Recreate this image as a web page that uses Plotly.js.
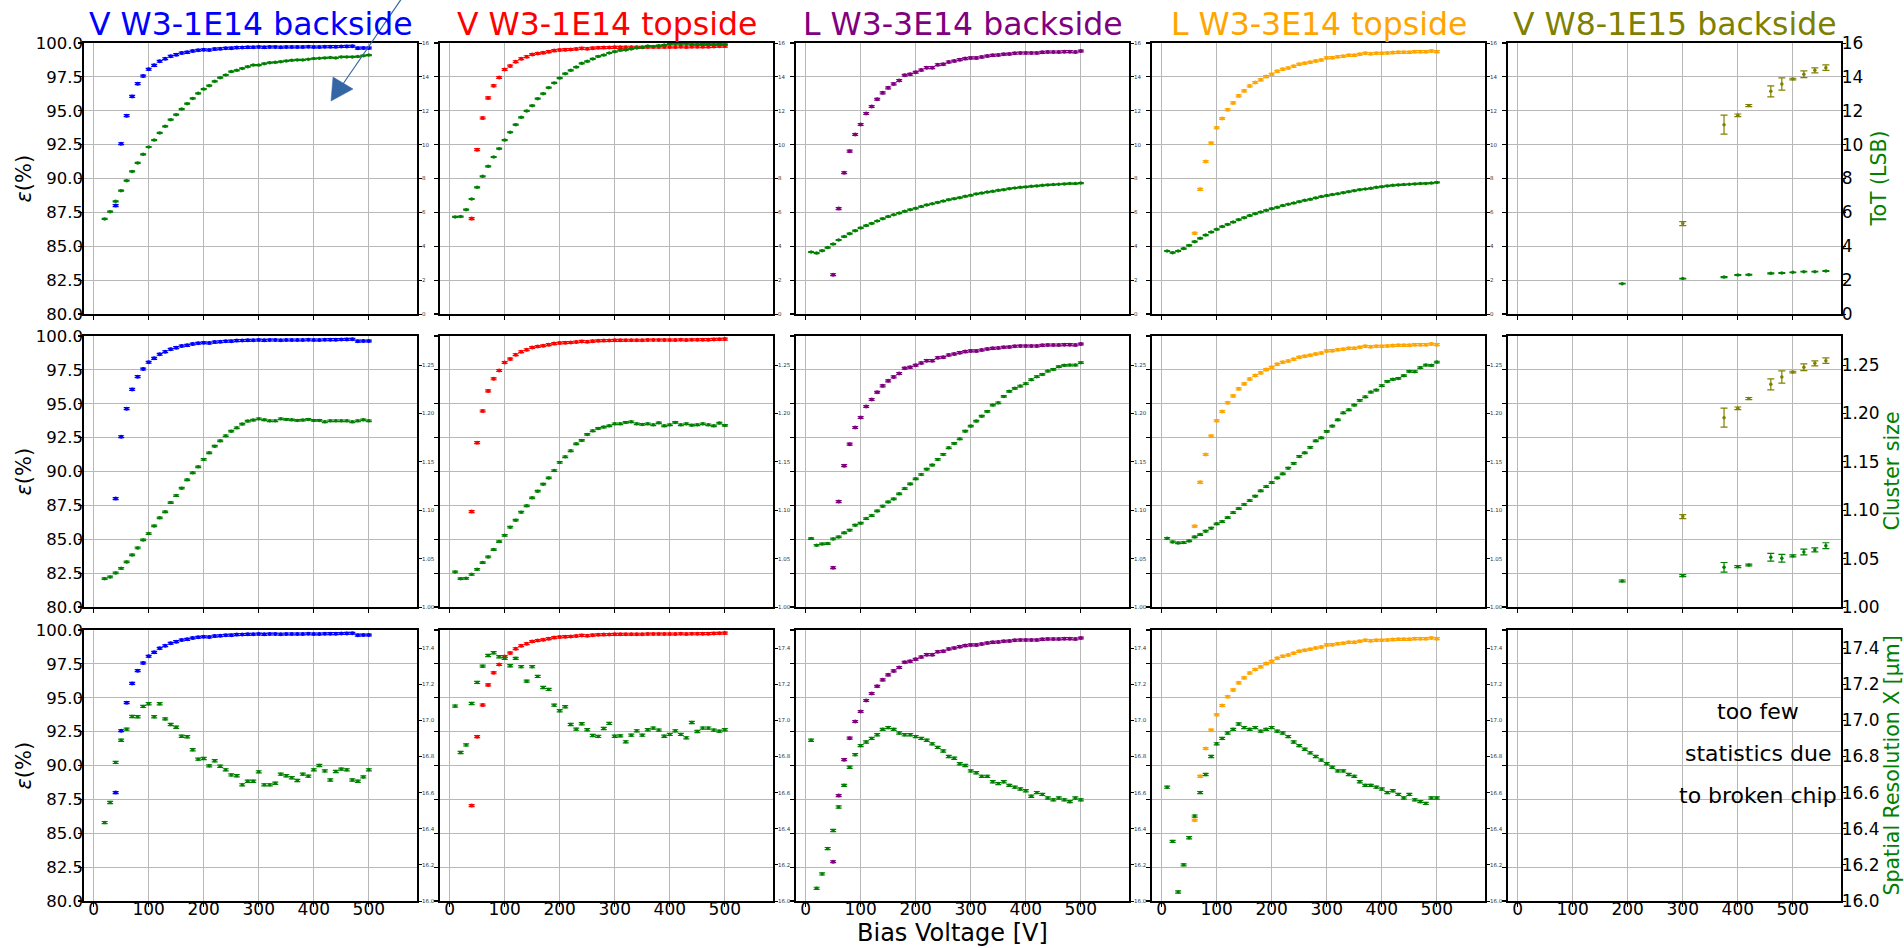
<!DOCTYPE html>
<html>
<head>
<meta charset="utf-8">
<script src="https://cdn.plot.ly/plotly-3.0.1.min.js"></script>
<style>
  html, body { margin: 0; padding: 0; background: #ffffff; overflow: hidden; }
  #chart { width: 1904px; height: 948px; }
</style>
</head>
<body>
<div id="chart"></div>
<script>
// ---------------- data ----------------
const sampleNames  = ['V W3-1E14 backside', 'V W3-1E14 topside', 'L W3-3E14 backside', 'L W3-3E14 topside', 'V W8-1E15 backside'];
const sampleColors = ['#0000ff', '#ff0000', '#800080', '#ffa500', '#808000'];
const rowTitles    = ['ToT (LSB)', 'Cluster size', 'Spatial Resolution X [µm]'];
const xTicks       = [0, 100, 200, 300, 400, 500];

// V W3-1E14 backside
const v1EffV = [40,50,60,70,80,90,100,110,120,130,140,150,160,170,180,190,200,210,220,230,240,250,260,270,280,290,300,310,320,330,340,350,360,370,380,390,400,410,420,430,440,450,460,470,480,490,500];
const v1Eff  = [88.0,92.57,94.64,96.06,97.0,97.56,98.06,98.35,98.65,98.84,99.02,99.14,99.26,99.31,99.41,99.46,99.5,99.48,99.55,99.58,99.61,99.62,99.66,99.67,99.68,99.69,99.7,99.68,99.7,99.7,99.69,99.71,99.71,99.71,99.71,99.72,99.71,99.71,99.72,99.73,99.73,99.74,99.75,99.76,99.62,99.63,99.63];
const v1V    = [20,30,40,50,60,70,80,90,100,110,120,130,140,150,160,170,180,190,200,210,220,230,240,250,260,270,280,290,300,310,320,330,340,350,360,370,380,390,400,410,420,430,440,450,460,470,480,490,500];
const v1ToT  = [5.61,6.04,6.65,7.28,7.87,8.42,8.92,9.43,9.86,10.27,10.69,11.08,11.47,11.77,12.10,12.42,12.73,13.03,13.28,13.48,13.74,13.95,14.11,14.31,14.39,14.50,14.60,14.70,14.70,14.78,14.84,14.86,14.90,14.94,14.98,15.0,15.0,15.04,15.08,15.10,15.12,15.14,15.12,15.18,15.18,15.18,15.20,15.25,15.29];
const v1CS   = [1.0293,1.0310,1.0352,1.0400,1.0466,1.0538,1.0610,1.0693,1.0759,1.0838,1.0921,1.0983,1.1079,1.1152,1.1228,1.1314,1.1386,1.1448,1.1524,1.1593,1.1662,1.1717,1.1769,1.1817,1.1852,1.1890,1.1921,1.1931,1.1945,1.1934,1.1924,1.1924,1.1945,1.1938,1.1934,1.1928,1.1931,1.1938,1.1928,1.1928,1.1914,1.1924,1.1924,1.1924,1.1924,1.1914,1.1924,1.1934,1.1924];
const v1Res  = [16.434,16.545,16.767,16.89,16.951,17.021,17.02,17.077,17.092,17.02,17.092,17.008,16.977,16.962,16.912,16.909,16.837,16.785,16.789,16.748,16.776,16.746,16.726,16.698,16.693,16.643,16.663,16.663,16.715,16.643,16.643,16.652,16.702,16.693,16.682,16.667,16.702,16.691,16.726,16.75,16.72,16.67,16.717,16.73,16.726,16.67,16.663,16.687,16.726];

// V W3-1E14 topside
const v2EffV = [40,50,60,70,80,90,100,110,120,130,140,150,160,170,180,190,200,210,220,230,240,250,260,270,280,290,300,310,320,330,340,350,360,370,380,390,400,410,420,430,440,450,460,470,480,490,500];
const v2Eff  = [87.04,92.13,94.47,95.95,96.84,97.45,98.04,98.3,98.62,98.84,98.99,99.15,99.22,99.28,99.36,99.44,99.48,99.51,99.52,99.56,99.6,99.58,99.62,99.65,99.66,99.67,99.68,99.68,99.69,99.69,99.69,99.69,99.7,99.7,99.7,99.7,99.71,99.71,99.72,99.71,99.72,99.72,99.73,99.73,99.75,99.76,99.77];
const v2V    = [10,20,30,40,50,60,70,80,90,100,110,120,130,140,150,160,170,180,190,200,210,220,230,240,250,260,270,280,290,300,310,320,330,340,350,360,370,380,390,400,410,420,430,440,450,460,470,480,490,500];
const v2ToT  = [5.73,5.75,6.16,6.79,7.48,8.13,8.72,9.27,9.76,10.27,10.73,11.18,11.61,11.99,12.30,12.71,13.01,13.36,13.64,13.93,14.19,14.39,14.58,14.80,14.92,15.06,15.21,15.29,15.41,15.49,15.57,15.59,15.65,15.71,15.74,15.82,15.80,15.84,15.88,15.94,15.96,15.96,15.96,15.92,15.92,15.93,15.93,15.92,15.93,15.92];
const v2CS   = [1.0362,1.0293,1.0297,1.0338,1.0390,1.0459,1.0517,1.0593,1.0676,1.0741,1.0824,1.0897,1.0979,1.1045,1.1128,1.1197,1.1269,1.1334,1.1410,1.1493,1.1552,1.1614,1.1686,1.1721,1.1783,1.1821,1.1845,1.1859,1.1872,1.1893,1.1893,1.1907,1.1914,1.1893,1.1886,1.1893,1.1883,1.1903,1.1872,1.1883,1.1907,1.1883,1.1893,1.1879,1.1883,1.1893,1.1883,1.1872,1.1900,1.1876];
const v2Res  = [17.079,16.822,16.864,17.093,17.21,17.30,17.359,17.374,17.352,17.343,17.302,17.343,17.297,17.217,17.297,17.243,17.182,17.171,17.084,17.053,17.075,16.977,16.951,16.981,16.948,16.916,16.911,16.955,16.983,16.912,16.914,16.881,16.918,16.942,16.918,16.948,16.957,16.946,16.912,16.922,16.942,16.922,16.903,16.988,16.938,16.957,16.957,16.946,16.94,16.948];

// L W3-3E14 backside
const l1EffV = [50,60,70,80,90,100,110,120,130,140,150,160,170,180,190,200,210,220,230,240,250,260,270,280,290,300,310,320,330,340,350,360,370,380,390,400,410,420,430,440,450,460,470,480,490,500];
const l1Eff  = [82.9,87.78,90.43,92.02,93.25,93.99,94.80,95.31,95.85,96.32,96.69,96.98,97.23,97.62,97.69,97.84,98.01,98.18,98.18,98.40,98.43,98.60,98.67,98.77,98.85,98.90,98.90,98.97,99.04,99.09,99.12,99.17,99.19,99.24,99.26,99.26,99.26,99.26,99.31,99.34,99.34,99.34,99.36,99.36,99.34,99.41];
const l1V    = [10,20,30,40,50,60,70,80,90,100,110,120,130,140,150,160,170,180,190,200,210,220,230,240,250,260,270,280,290,300,310,320,330,340,350,360,370,380,390,400,410,420,430,440,450,460,470,480,490,500];
const l1ToT  = [3.66,3.60,3.74,3.92,4.13,4.37,4.57,4.74,4.92,5.08,5.22,5.35,5.49,5.63,5.75,5.86,5.96,6.06,6.16,6.24,6.34,6.44,6.51,6.59,6.67,6.75,6.81,6.87,6.95,7.01,7.09,7.14,7.20,7.24,7.30,7.34,7.40,7.44,7.48,7.50,7.54,7.56,7.60,7.62,7.64,7.66,7.68,7.70,7.70,7.73];
const l1CS   = [1.0707,1.0638,1.0652,1.0655,1.0703,1.0724,1.0766,1.0793,1.0845,1.0866,1.0914,1.0945,1.0993,1.1041,1.1086,1.1117,1.1169,1.1224,1.1272,1.1324,1.1369,1.1424,1.1466,1.1524,1.1576,1.1645,1.1690,1.1738,1.1817,1.1869,1.1921,1.1972,1.2021,1.2086,1.2110,1.2176,1.2228,1.2259,1.2283,1.2307,1.2348,1.2379,1.2403,1.2438,1.2455,1.2483,1.2497,1.2500,1.2500,1.2524];
const l1Res  = [16.89,16.07,16.15,16.29,16.39,16.52,16.64,16.74,16.81,16.86,16.88,16.90,16.92,16.95,16.96,16.95,16.93,16.92,16.92,16.91,16.90,16.89,16.87,16.85,16.83,16.80,16.79,16.76,16.75,16.72,16.71,16.69,16.69,16.66,16.65,16.66,16.64,16.63,16.62,16.61,16.58,16.60,16.59,16.57,16.56,16.57,16.56,16.55,16.57,16.56];

// L W3-3E14 topside
const l2EffV = [60,70,80,90,100,110,120,130,140,150,160,170,180,190,200,210,220,230,240,250,260,270,280,290,300,310,320,330,340,350,360,370,380,390,400,410,420,430,440,450,460,470,480,490,500];
const l2Eff  = [85.96,89.20,91.26,92.61,93.74,94.43,95.07,95.58,96.10,96.47,96.83,97.08,97.28,97.52,97.69,97.91,98.06,98.16,98.28,98.43,98.50,98.58,98.67,98.75,98.90,98.92,98.99,99.02,99.09,99.09,99.17,99.24,99.21,99.24,99.24,99.26,99.29,99.31,99.31,99.31,99.36,99.36,99.36,99.41,99.36];
const l2V    = [10,20,30,40,50,60,70,80,90,100,110,120,130,140,150,160,170,180,190,200,210,220,230,240,250,260,270,280,290,300,310,320,330,340,350,360,370,380,390,400,410,420,430,440,450,460,470,480,490,500];
const l2ToT  = [3.72,3.62,3.72,3.86,4.05,4.27,4.47,4.66,4.84,5.00,5.16,5.29,5.43,5.57,5.69,5.81,5.92,6.02,6.12,6.22,6.30,6.40,6.48,6.55,6.63,6.71,6.77,6.85,6.93,6.99,7.05,7.10,7.16,7.22,7.28,7.34,7.38,7.42,7.48,7.52,7.56,7.60,7.62,7.64,7.66,7.68,7.70,7.71,7.73,7.77];
const l2CS   = [1.0710,1.0672,1.0662,1.0666,1.0683,1.0724,1.0748,1.0783,1.0814,1.0859,1.0883,1.0924,1.0976,1.1017,1.1059,1.1100,1.1145,1.1200,1.1245,1.1286,1.1334,1.1376,1.1434,1.1483,1.1555,1.1593,1.1648,1.1717,1.1748,1.1814,1.1869,1.1934,1.2007,1.2038,1.2086,1.2134,1.2172,1.2221,1.2241,1.2286,1.2331,1.2352,1.2362,1.2390,1.2434,1.2431,1.2472,1.2500,1.2497,1.2531];
const l2Res  = [16.63,16.33,16.05,16.20,16.35,16.47,16.60,16.70,16.80,16.87,16.90,16.93,16.95,16.98,16.96,16.95,16.96,16.94,16.95,16.96,16.94,16.93,16.91,16.88,16.86,16.84,16.82,16.80,16.78,16.76,16.74,16.72,16.72,16.70,16.69,16.66,16.64,16.64,16.63,16.62,16.60,16.61,16.59,16.57,16.59,16.56,16.55,16.54,16.57,16.57];

// V W8-1E15 backside
const v3EffV   = [300,375,400,420,460,480,500,520,540,560];
const v3Eff    = [86.67,93.97,94.66,95.38,96.43,96.97,97.34,97.69,97.98,98.18];
const v3EffErr = [0.15,0.7,0.1,0.08,0.4,0.45,0.06,0.25,0.18,0.2];
const v3V      = [190,300,375,400,420,460,480,500,520,540,560];
const v3ToT    = [1.79,2.09,2.18,2.30,2.32,2.40,2.42,2.46,2.50,2.50,2.54];
const v3ToTErr = [0.02,0.02,0.03,0.02,0.02,0.03,0.03,0.02,0.02,0.02,0.02];
const v3CS     = [1.0269,1.0324,1.0410,1.0417,1.0434,1.0514,1.0503,1.0528,1.0569,1.0590,1.0634];
const v3CSErr  = [0.001,0.001,0.005,0.001,0.001,0.004,0.004,0.001,0.003,0.002,0.003];

const noteLines = ['too few', 'statistics due', 'to broken chip'];

// ---------------- figure geometry ----------------
const FW = 1904, FH = 948;
const colLeft = [84, 440, 796, 1152, 1508], colW = 333;
const rowTop = [43, 336, 630], rowH = 271;
const px = v => v / FW;
const py = v => 1 - v / FH;

const rightRange  = [[0, 16], [1.0, 1.28], [16.0, 17.5]];
const rightDtick  = [2, 0.05, 0.2];
const rightFormat = ['d', '.2f', '.1f'];

const GREEN = '#008000';
const GRID = '#b8b8b8';
const TICKFONT = 16.5;

// per column: efficiency series, and per row the secondary series
const columns = [
  { effX: v1EffV, eff: v1Eff, effErr: null, x: v1V, rows: [v1ToT, v1CS, v1Res], errs: [null, null, null] },
  { effX: v2EffV, eff: v2Eff, effErr: null, x: v2V, rows: [v2ToT, v2CS, v2Res], errs: [null, null, null] },
  { effX: l1EffV, eff: l1Eff, effErr: null, x: l1V, rows: [l1ToT, l1CS, l1Res], errs: [null, null, null] },
  { effX: l2EffV, eff: l2Eff, effErr: null, x: l2V, rows: [l2ToT, l2CS, l2Res], errs: [null, null, null] },
  { effX: v3EffV, eff: v3Eff, effErr: v3EffErr, x: v3V, rows: [v3ToT, v3CS, null], errs: [v3ToTErr, v3CSErr, null] }
];
const constErr = [0.03, 0.0008, 0.006];

const traces = [];
const layout = {
  width: FW, height: FH,
  margin: { l: 0, r: 0, t: 0, b: 0 },
  paper_bgcolor: '#ffffff', plot_bgcolor: '#ffffff',
  showlegend: false,
  font: { family: 'DejaVu Sans, sans-serif', color: '#000000' },
  annotations: [], shapes: []
};

const sfx = n => (n === 1 ? '' : String(n));

for (let r = 0; r < 3; r++) {
  for (let c = 0; c < 5; c++) {
    const n = r * 5 + c + 1;
    const nr = n + 15;
    const xd = [px(colLeft[c]), px(colLeft[c] + colW)];
    const yd = [py(rowTop[r] + rowH), py(rowTop[r])];

    layout['xaxis' + sfx(n)] = {
      domain: xd, anchor: 'y' + sfx(n), range: [-17.5, 587.5],
      tickmode: 'array', tickvals: xTicks, showticklabels: r === 2,
      ticks: 'outside', ticklen: 4, tickwidth: 1.2, tickcolor: '#000',
      ticklabelstandoff: -12,
      tickfont: { size: TICKFONT + 0.5, color: '#000' },
      showline: true, linecolor: '#000', linewidth: 1.8, mirror: true,
      showgrid: true, gridcolor: GRID, gridwidth: 1.1, zeroline: false
    };
    layout['yaxis' + sfx(n)] = {
      domain: yd, anchor: 'x' + sfx(n), range: [80, 100],
      tick0: 80, dtick: 2.5, tickformat: '.1f', showticklabels: c === 0,
      ticks: 'outside', ticklen: 4, tickwidth: 1.2, tickcolor: '#000',
      ticklabelstandoff: -8,
      tickfont: { size: TICKFONT, color: '#000' },
      showline: true, linecolor: '#000', linewidth: 1.8,
      showgrid: true, gridcolor: GRID, gridwidth: 1.1, zeroline: false
    };
    const big = c === 4;
    layout['yaxis' + nr] = {
      overlaying: 'y' + sfx(n), anchor: 'x' + sfx(n), side: 'right',
      range: rightRange[r], tick0: rightRange[r][0], dtick: rightDtick[r], tickformat: rightFormat[r],
      ticks: 'outside', ticklen: big ? 3.5 : 3, tickwidth: 1, tickcolor: '#000',
      ticklabelstandoff: big ? -8 : -1,
      tickfont: { size: big ? TICKFONT + 0.5 : 5.5, color: big ? '#000' : '#333' },
      showline: true, linecolor: '#000', linewidth: 1.8,
      showgrid: false, zeroline: false
    };

    const col = columns[c];
    const sec = col.rows[r];
    if (sec === null) {
      // keep the empty panel's frame, ticks and grid
      traces.push({ type: 'scatter', mode: 'markers', x: [], y: [], xaxis: 'x' + sfx(n), yaxis: 'y' + sfx(n), hoverinfo: 'skip', showlegend: false });
      traces.push({ type: 'scatter', mode: 'markers', x: [], y: [], xaxis: 'x' + sfx(n), yaxis: 'y' + nr, hoverinfo: 'skip', showlegend: false });
      continue;
    }

    // efficiency on the left axis
    traces.push({
      type: 'scatter', mode: 'markers', x: col.effX, y: col.eff,
      xaxis: 'x' + sfx(n), yaxis: 'y' + sfx(n),
      marker: { color: sampleColors[c], size: big ? 3.5 : 4 },
      error_y: col.effErr
        ? { type: 'data', array: col.effErr, color: sampleColors[c], thickness: 1.2, width: 3.5 }
        : { type: 'constant', value: 0.07, color: sampleColors[c], thickness: 1.2, width: 3 },
      hoverinfo: 'skip', showlegend: false
    });
    // ToT / cluster size / resolution on the right axis
    const e = col.errs[r];
    traces.push({
      type: 'scatter', mode: 'markers', x: col.x, y: sec,
      xaxis: 'x' + sfx(n), yaxis: 'y' + nr,
      marker: { color: GREEN, size: 3.5 },
      error_y: e
        ? { type: 'data', array: e, color: GREEN, thickness: 1.2, width: 3.5 }
        : { type: 'constant', value: constErr[r], color: GREEN, thickness: 1.2, width: 3 },
      hoverinfo: 'skip', showlegend: false
    });
  }
}

// column titles
for (let c = 0; c < 5; c++) {
  layout.annotations.push({
    xref: 'paper', yref: 'paper', x: px(colLeft[c] + colW / 2), y: py(24),
    xanchor: 'center', yanchor: 'middle', showarrow: false,
    text: sampleNames[c], font: { size: 31.5, color: sampleColors[c] }
  });
}
// left axis titles
for (let r = 0; r < 3; r++) {
  layout.annotations.push({
    xref: 'paper', yref: 'paper', x: px(23), y: py(rowTop[r] + rowH / 2),
    xanchor: 'center', yanchor: 'middle', showarrow: false, textangle: -90,
    text: '<i>ε</i>(%)', font: { size: 21, color: '#000' }
  });
}
// right axis titles
const rightTitleX = [1878, 1891, 1891];
for (let r = 0; r < 3; r++) {
  layout.annotations.push({
    xref: 'paper', yref: 'paper', x: px(rightTitleX[r]), y: py(rowTop[r] + rowH / 2),
    xanchor: 'center', yanchor: 'middle', showarrow: false, textangle: -90,
    text: rowTitles[r], font: { size: 20.5, color: GREEN }
  });
}
// common x title
layout.annotations.push({
  xref: 'paper', yref: 'paper', x: px(952), y: py(933),
  xanchor: 'center', yanchor: 'middle', showarrow: false,
  text: 'Bias Voltage [V]', font: { size: 24, color: '#000' }
});
// note in the empty panel, one annotation per line
const noteY = [711, 753, 795];
noteLines.forEach((t, i) => {
  layout.annotations.push({
    xref: 'paper', yref: 'paper', x: px(1758), y: py(noteY[i]),
    xanchor: 'center', yanchor: 'middle', showarrow: false,
    text: t, font: { size: 22, color: '#000' }
  });
});

// pointer arrow in the first panel
const ARROW = '#3465a4';
layout.shapes.push({
  type: 'line', xref: 'paper', yref: 'paper',
  x0: px(402), y0: py(-2), x1: px(343), y1: py(84),
  line: { color: ARROW, width: 1.2 }
});
layout.shapes.push({
  type: 'path', xref: 'paper', yref: 'paper',
  path: `M ${px(333)},${py(77)} L ${px(353)},${py(89)} L ${px(331)},${py(101)} Z`,
  fillcolor: ARROW, line: { color: ARROW, width: 0.5 }
});

Plotly.newPlot('chart', traces, layout, { displayModeBar: false, staticPlot: true });
</script>
</body>
</html>
